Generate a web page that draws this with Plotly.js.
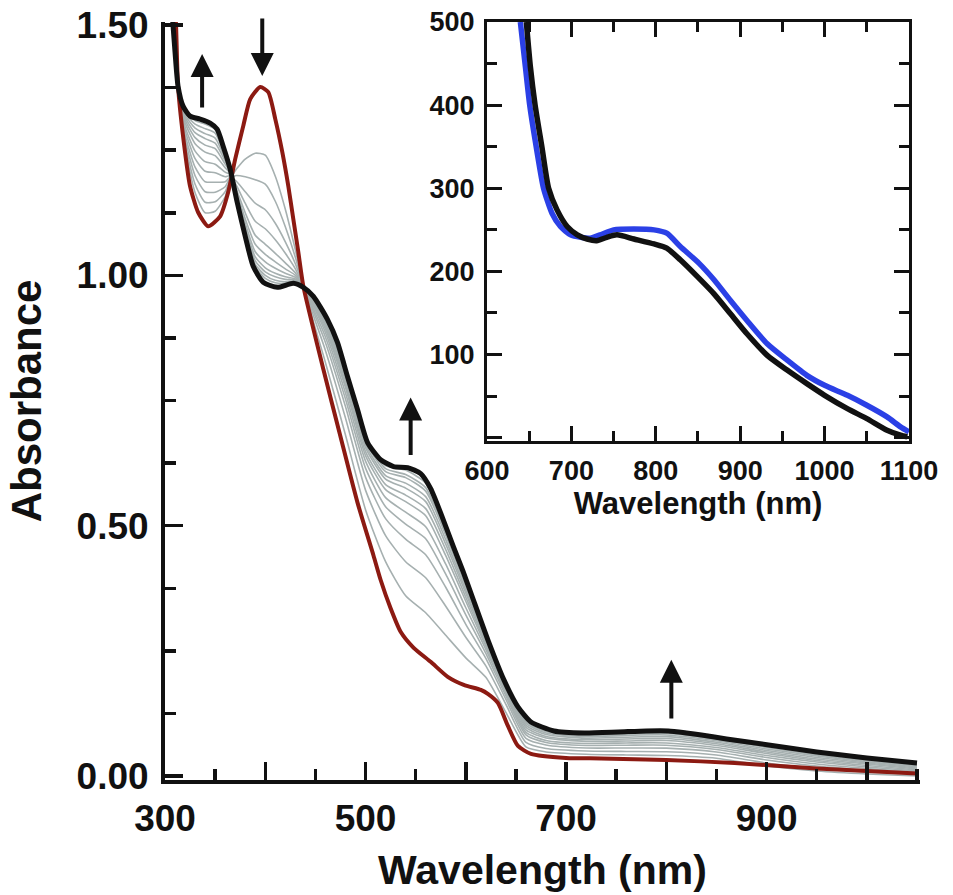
<!DOCTYPE html>
<html>
<head>
<meta charset="utf-8">
<script src="https://cdn.plot.ly/plotly-3.0.1.min.js"></script>
<style>html,body{margin:0;padding:0;background:#fff;}#chart{width:953px;height:895px;}</style>
</head>
<body>
<div id="chart"></div>
<script>
// ---------- main panel data ----------
const blackX = [306,308,310,313,318,325,335,345,352,358,365,372,380,388,398,412,428,438,448,462,472,482,492,502,515,528,542,555,565,575,588,597,605,622,638,652,665,688,718,752,780,802,820,835,860,902,950,1000,1050];
const blackY = [1.56,1.50,1.446,1.378,1.338,1.318,1.312,1.304,1.292,1.258,1.212,1.146,1.078,1.018,0.986,0.976,0.984,0.976,0.958,0.912,0.866,0.798,0.732,0.666,0.632,0.618,0.616,0.604,0.574,0.525,0.456,0.41,0.366,0.272,0.192,0.138,0.108,0.09,0.086,0.088,0.09,0.09,0.086,0.082,0.074,0.062,0.048,0.036,0.026];

const redX = [309,311,313,320,325,333,343,355,363,370,378,385,395,403,410,417,423,428,433,438,458,475,492,508,515,525,535,548,565,582,598,615,622,632,642,652,665,700,735,800,868,950,1050];
const redY = [1.56,1.50,1.378,1.246,1.178,1.126,1.098,1.118,1.166,1.232,1.298,1.352,1.376,1.366,1.312,1.246,1.178,1.112,1.046,0.978,0.812,0.678,0.546,0.44,0.392,0.335,0.288,0.256,0.228,0.198,0.182,0.172,0.164,0.146,0.1,0.06,0.044,0.036,0.035,0.032,0.026,0.015,0.005];

const grayX = [312,315,320,330,340,350,360,365,370,380,390,400,410,420,430,440,460,480,500,520,540,560,580,600,620,640,660,680,720,760,800,850,900,950,1000,1050];
const gray1  = [1.40,1.342,1.256,1.165,1.125,1.128,1.157,1.188,1.209,1.232,1.244,1.240,1.198,1.132,1.051,0.964,0.826,0.681,0.532,0.428,0.360,0.326,0.281,0.236,0.197,0.127,0.058,0.048,0.0435,0.042,0.041,0.0355,0.020,0.010,0.004,0.000];
const gray2  = [1.40,1.343,1.264,1.182,1.146,1.147,1.167,1.191,1.199,1.197,1.191,1.182,1.148,1.097,1.036,0.966,0.850,0.715,0.571,0.480,0.428,0.396,0.339,0.277,0.220,0.143,0.067,0.055,0.050,0.049,0.0485,0.042,0.026,0.015,0.008,0.003];
const gray3  = [1.40,1.345,1.273,1.199,1.167,1.166,1.177,1.194,1.190,1.167,1.144,1.131,1.104,1.067,1.023,0.968,0.866,0.738,0.597,0.514,0.473,0.442,0.377,0.303,0.235,0.153,0.075,0.062,0.056,0.056,0.0556,0.048,0.032,0.020,0.012,0.006];
const gray4  = [1.40,1.346,1.281,1.216,1.187,1.186,1.187,1.196,1.184,1.144,1.108,1.093,1.071,1.044,1.013,0.969,0.877,0.753,0.615,0.538,0.503,0.474,0.403,0.322,0.245,0.160,0.082,0.067,0.061,0.0615,0.0615,0.053,0.037,0.024,0.015,0.008];
const gray5  = [1.40,1.348,1.290,1.233,1.208,1.205,1.197,1.199,1.178,1.125,1.080,1.062,1.044,1.025,1.005,0.970,0.886,0.765,0.629,0.556,0.527,0.498,0.423,0.336,0.253,0.165,0.087,0.071,0.065,0.066,0.066,0.057,0.041,0.028,0.018,0.010];
const gray6  = [1.40,1.349,1.297,1.248,1.227,1.222,1.206,1.201,1.175,1.113,1.062,1.042,1.027,1.013,1.000,0.971,0.893,0.776,0.640,0.572,0.548,0.520,0.440,0.349,0.259,0.170,0.092,0.076,0.069,0.070,0.071,0.061,0.045,0.031,0.021,0.012];
const gray7  = [1.40,1.350,1.305,1.263,1.246,1.239,1.215,1.204,1.172,1.104,1.047,1.027,1.014,1.004,0.996,0.972,0.898,0.782,0.648,0.582,0.561,0.534,0.452,0.357,0.264,0.173,0.097,0.079,0.0725,0.074,0.075,0.0645,0.048,0.034,0.024,0.014];
const gray8  = [1.40,1.352,1.311,1.275,1.260,1.253,1.222,1.206,1.170,1.097,1.037,1.015,1.004,0.997,0.993,0.973,0.903,0.789,0.656,0.593,0.575,0.548,0.463,0.365,0.268,0.176,0.101,0.083,0.0755,0.0775,0.0786,0.0675,0.051,0.037,0.026,0.016];
const gray9  = [1.40,1.352,1.316,1.285,1.273,1.264,1.228,1.207,1.169,1.092,1.029,1.007,0.997,0.992,0.991,0.973,0.907,0.795,0.662,0.600,0.585,0.558,0.472,0.371,0.272,0.178,0.105,0.086,0.0785,0.081,0.082,0.0705,0.054,0.040,0.028,0.018];
const gray10 = [1.40,1.353,1.320,1.294,1.283,1.274,1.233,1.209,1.168,1.087,1.022,1.000,0.990,0.987,0.989,0.974,0.911,0.800,0.668,0.608,0.596,0.569,0.481,0.378,0.275,0.180,0.108,0.089,0.081,0.0835,0.085,0.073,0.057,0.042,0.030,0.020];
const gray11 = [1.40,1.354,1.324,1.302,1.293,1.284,1.238,1.210,1.167,1.084,1.017,0.994,0.985,0.984,0.988,0.974,0.913,0.803,0.672,0.614,0.602,0.576,0.486,0.382,0.277,0.182,0.111,0.091,0.083,0.0857,0.0875,0.075,0.059,0.044,0.032,0.022];
const gray12 = [1.40,1.355,1.327,1.309,1.302,1.291,1.242,1.211,1.166,1.080,1.012,0.988,0.980,0.980,0.986,0.975,0.916,0.807,0.677,0.620,0.611,0.585,0.494,0.387,0.280,0.184,0.113,0.092,0.0845,0.0874,0.089,0.0765,0.061,0.046,0.034,0.024];
const grayCurves = [gray1,gray2,gray3,gray4,gray5,gray6,gray7,gray8,gray9,gray10,gray11,gray12];

const mainXTickVals = [300,400,500,600,700,800,900,1000];
const mainXTickText = ['300','','500','','700','','900',''];
const mainYTickVals = [0,0.5,1.0,1.5];
const mainYTickText = ['0.00','0.50','1.00','1.50'];

// arrows: [x (nm), tail value, head value]
const arrowX    = [337, 397, 545, 805];
const arrowTail = [1.332, 1.516, 0.638, 0.112];
const arrowHead = [1.442, 1.398, 0.756, 0.232];

// ---------- inset data ----------
const insetBlueX = [639.5,645.5,650.6,657,667,677,687,699,711,722.5,734,750,774,798,813,829,851,869,888.5,908,932,956,979,1000,1027,1050,1074,1090,1100];
const insetBlueY = [500,446,400,358,300,270,254,244,241,240,244,250,251,250,246,230,210,190,165,141,113,93,75,63,51,39,25,13,7];
const insetBlackX = [646.6,651.4,657,665,673,683,695,707,718.6,730,742,754,774,798,813,829,849,869,888.5,908,932,956,979,1000,1027,1050,1074,1090,1098];
const insetBlackY = [500,446,400,350,300,274,254,244,239,237,241,244,239,233,228,214,194,173,149,125,99,81,65,51,35,23,9,3,1];
const insetXTickVals = [600,700,800,900,1000,1100];
const insetYTickVals = [0,100,200,300,400,500];
const insetYTickText = ['','100','200','300','400','500'];

// ---------- build ----------
const FONT = 'Liberation Sans, Arial, Helvetica, sans-serif';
const INK = '#111111';
const traces = [];
grayCurves.forEach((g, i) => {
  traces.push({x: grayX, y: g, type: 'scatter', mode: 'lines', name: 'gray' + (i + 1),
    line: {color: '#a6b0b0', width: 1.6, shape: 'spline', smoothing: 0.6}, xaxis: 'x', yaxis: 'y', hoverinfo: 'skip'});
});
traces.push({x: redX, y: redY, type: 'scatter', mode: 'lines', name: 'initial',
  line: {color: '#8c1a12', width: 4, shape: 'spline', smoothing: 0.6}, xaxis: 'x', yaxis: 'y'});
traces.push({x: blackX, y: blackY, type: 'scatter', mode: 'lines', name: 'final',
  line: {color: INK, width: 5, shape: 'spline', smoothing: 0.6}, xaxis: 'x', yaxis: 'y'});
traces.push({x: insetBlueX, y: insetBlueY, type: 'scatter', mode: 'lines', name: 'inset blue',
  line: {color: '#2b40e6', width: 5.5, shape: 'spline', smoothing: 0.6}, xaxis: 'x2', yaxis: 'y2'});
traces.push({x: insetBlackX, y: insetBlackY, type: 'scatter', mode: 'lines', name: 'inset black',
  line: {color: INK, width: 5.5, shape: 'spline', smoothing: 0.6}, xaxis: 'x2', yaxis: 'y2'});

const annotations = arrowX.map((x, i) => ({
  x: x, y: arrowHead[i], ax: x, ay: arrowTail[i], xref: 'x', yref: 'y', axref: 'x', ayref: 'y',
  text: '', showarrow: true, arrowhead: 2, arrowsize: 1.15, arrowwidth: 4, arrowcolor: INK, standoff: 0
}));

const layout = {
  width: 953, height: 895,
  margin: {l: 165, r: 33, t: 22, b: 115},
  paper_bgcolor: '#ffffff', plot_bgcolor: 'rgba(0,0,0,0)',
  showlegend: false,
  font: {family: FONT, color: INK},
  xaxis: {
    domain: [0, 1], range: [300, 1053], anchor: 'y',
    showline: true, linewidth: 4, linecolor: INK, showgrid: false, zeroline: false,
    ticks: 'inside', ticklen: 18, tickwidth: 3.5, tickcolor: INK,
    tickmode: 'array', tickvals: mainXTickVals, ticktext: mainXTickText,
    minor: {ticks: 'inside', ticklen: 11, tickwidth: 3.5, tickcolor: INK, dtick: 50, tick0: 300},
    tickfont: {family: FONT, size: 37, weight: 700, color: INK},
    ticklabelstandoff: 3,
    title: {text: 'Wavelength (nm)', font: {family: FONT, size: 41, weight: 700, color: INK}, standoff: 18}
  },
  yaxis: {
    domain: [0, 1], range: [-0.008, 1.506], anchor: 'x',
    showline: true, linewidth: 4, linecolor: INK, showgrid: false, zeroline: false,
    ticks: 'inside', ticklen: 18, tickwidth: 3.5, tickcolor: INK,
    tickmode: 'array', tickvals: mainYTickVals, ticktext: mainYTickText,
    minor: {ticks: 'inside', ticklen: 11, tickwidth: 3.5, tickcolor: INK, dtick: 0.125, tick0: 0},
    tickfont: {family: FONT, size: 37, weight: 700, color: INK},
    ticklabelstandoff: 5,
    title: {text: 'Absorbance', font: {family: FONT, size: 42, weight: 700, color: INK}, standoff: 23}
  },
  xaxis2: {
    domain: [0.4265, 0.9854], range: [600, 1100], anchor: 'y2',
    showline: true, mirror: 'ticks', linewidth: 3, linecolor: INK, showgrid: false, zeroline: false,
    ticks: 'inside', ticklen: 15, tickwidth: 3, tickcolor: INK,
    tickmode: 'array', tickvals: insetXTickVals,
    minor: {ticks: 'inside', ticklen: 10, tickwidth: 3, tickcolor: INK, dtick: 50, tick0: 600},
    tickfont: {family: FONT, size: 27, weight: 700, color: INK},
    ticklabelstandoff: 4,
    title: {text: 'Wavelength (nm)', font: {family: FONT, size: 31, weight: 700, color: INK}, standoff: 6}
  },
  yaxis2: {
    domain: [0.4472, 1], range: [-4, 500], anchor: 'x2',
    showline: true, mirror: 'ticks', linewidth: 3, linecolor: INK, showgrid: false, zeroline: false,
    ticks: 'inside', ticklen: 15, tickwidth: 3, tickcolor: INK,
    tickmode: 'array', tickvals: insetYTickVals, ticktext: insetYTickText,
    minor: {ticks: 'inside', ticklen: 10, tickwidth: 3, tickcolor: INK, dtick: 50, tick0: 0},
    tickfont: {family: FONT, size: 27, weight: 700, color: INK},
    ticklabelstandoff: 4
  },
  annotations: annotations
};

Plotly.newPlot('chart', traces, layout, {staticPlot: true, displayModeBar: false});
</script>
</body>
</html>
